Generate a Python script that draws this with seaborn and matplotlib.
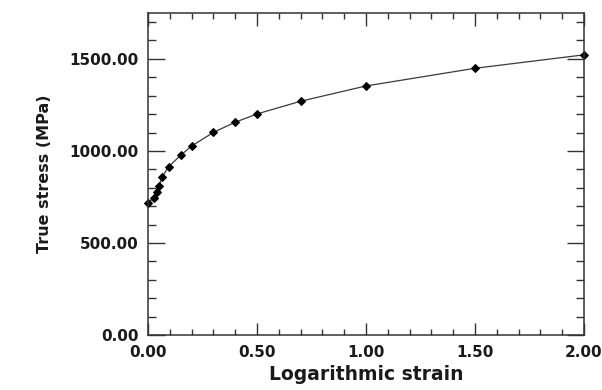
import numpy as np
import pandas as pd
import seaborn as sns
import matplotlib
matplotlib.use('Agg')
import matplotlib.pyplot as plt
from matplotlib.ticker import MultipleLocator, FormatStrFormatter

# values
strain = [0.0, 0.025, 0.04, 0.05, 0.065, 0.095, 0.15, 0.2, 0.3, 0.4, 0.5, 0.7, 1.0, 1.5, 2.0]
stress = [716, 745, 779, 810, 860, 915, 977, 1027, 1101, 1156, 1201, 1270, 1353, 1449, 1522]

df = pd.DataFrame({'strain': strain, 'stress': stress})

sns.set_style('ticks')
plt.rcParams['font.family'] = ['DejaVu Sans']
plt.rcParams['font.weight'] = 'bold'

f, ax = plt.subplots(figsize=(6.02, 3.9), dpi=100)
f.subplots_adjust(left=0.246, right=0.970, bottom=0.141, top=0.967)

sns.lineplot(data=df, x='strain', y='stress', ax=ax, color='#3a3a3a', linewidth=0.9,
             marker='D', markersize=4.5, markerfacecolor='black', markeredgecolor='black',
             clip_on=False)

ax.set_xlim(0, 2.0)
ax.set_ylim(0, 1750)
ax.xaxis.set_major_locator(MultipleLocator(0.5))
ax.xaxis.set_minor_locator(MultipleLocator(0.1))
ax.yaxis.set_major_locator(MultipleLocator(500))
ax.yaxis.set_minor_locator(MultipleLocator(100))
ax.xaxis.set_major_formatter(FormatStrFormatter('%.2f'))
ax.yaxis.set_major_formatter(FormatStrFormatter('%.2f'))

ax.tick_params(axis='both', which='both', direction='in', top=True, right=True,
               color='#333333', width=1.0, labelsize=11, labelcolor='#1a1a1a')
ax.tick_params(axis='x', which='major', length=9, pad=7)
ax.tick_params(axis='x', which='minor', length=4.5)
ax.tick_params(axis='y', which='major', length=12, pad=7)
ax.tick_params(axis='y', which='minor', length=6)
for lab in ax.get_xticklabels() + ax.get_yticklabels():
    lab.set_fontweight('bold')

for s in ax.spines.values():
    s.set_linewidth(1.1)
    s.set_color('#333333')

ax.set_xlabel('Logarithmic strain', fontsize=13.5, fontweight='bold', color='#1a1a1a', labelpad=4)
ax.set_ylabel('True stress (MPa)', fontsize=11.5, fontweight='bold', color='#1a1a1a', labelpad=12)

plt.savefig('out.png', dpi=100)
